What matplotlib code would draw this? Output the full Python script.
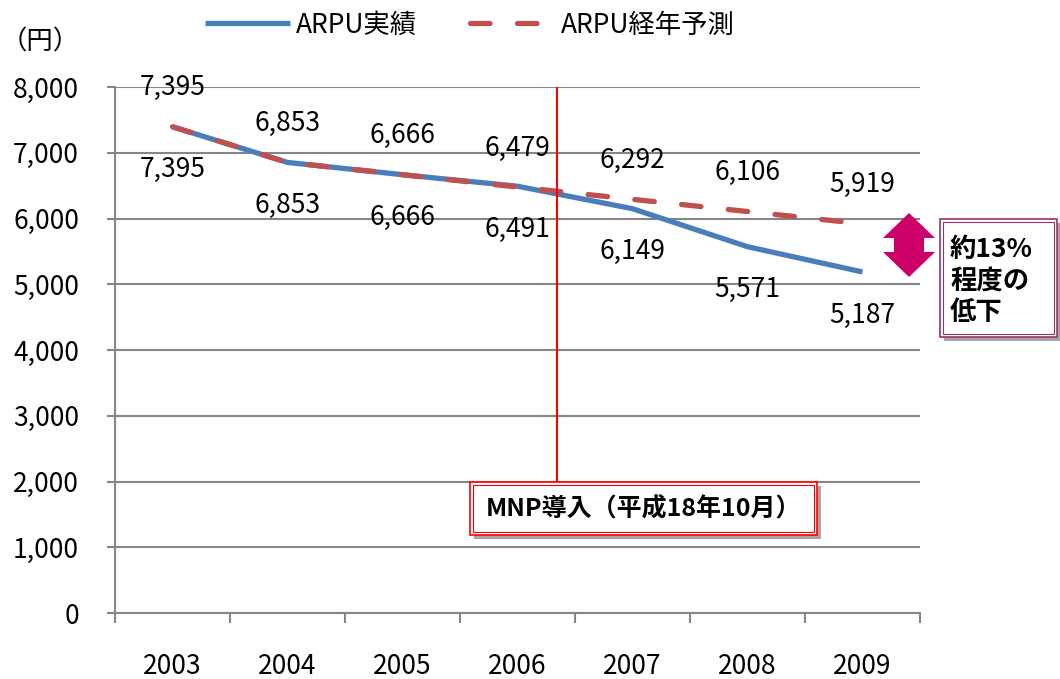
import matplotlib
matplotlib.use("Agg")
import matplotlib.pyplot as plt
from matplotlib.patches import Rectangle, Polygon

plt.rcParams['font.family'] = ['Noto Sans CJK JP', 'DejaVu Sans']

# data
years = ['2003', '2004', '2005', '2006', '2007', '2008', '2009']
arpu_actual = [7395, 6853, 6666, 6491, 6149, 5571, 5187]
arpu_forecast = [7395, 6853, 6666, 6479, 6292, 6106, 5919]
y_ticks = [0, 1000, 2000, 3000, 4000, 5000, 6000, 7000, 8000]
mnp_x = 3.34          # Oct 2006 on the category axis
mnp_label = 'MNP導入（平成18年10月）'
drop_label = '約13%\n程度の\n低下'

W, H = 1060, 679
BLUE = '#4A7EBB'
RED = '#C0504D'
GRID = '#868686'
FS = 19


def fx(px):
    return px / W


def fy(py):
    return 1 - py / H


fig = plt.figure(figsize=(W / 100, H / 100), dpi=100)
ax = fig.add_axes([fx(115), fy(613), fx(920) - fx(115), fy(87) - fy(613)])

x = list(range(len(years)))
ax.plot(x, arpu_actual, color=BLUE, lw=3.8, solid_capstyle='butt', solid_joinstyle='round',
        zorder=3, label='ARPU実績')
ax.plot(x, arpu_forecast, color=RED, lw=3.8, dashes=(3.7, 5.2), dash_capstyle='round',
        zorder=4, label='ARPU経年予測')

for xi, v in zip(x, arpu_forecast):
    ax.annotate(f'{v:,}', (xi, v), xytext=(0, 28), textcoords='offset points',
                ha='center', va='center', fontsize=FS)
for xi, v in zip(x, arpu_actual):
    ax.annotate(f'{v:,}', (xi, v), xytext=(0, -31), textcoords='offset points',
                ha='center', va='center', fontsize=FS)

ax.set_xlim(-0.5, len(years) - 0.5)
ax.set_ylim(0, 8000)
ax.set_yticks(y_ticks)
ax.set_yticklabels([f'{t:,}' for t in y_ticks], fontsize=FS)
ax.set_xticks([i - 0.5 for i in range(len(years) + 1)])
ax.set_xticklabels([])
ax.set_xticks(x, minor=True)
ax.set_xticklabels(years, minor=True, fontsize=FS)
ax.tick_params(axis='x', which='major', length=7, width=1.5, color=GRID, direction='out')
ax.tick_params(axis='x', which='minor', length=0, pad=29)
ax.tick_params(axis='y', length=6, width=1.5, color=GRID, pad=20)

ax.grid(axis='y', color=GRID, lw=1.5)
ax.set_axisbelow(True)
for s in ['top', 'right']:
    ax.spines[s].set_visible(False)
for s in ['left', 'bottom']:
    ax.spines[s].set_color(GRID)
    ax.spines[s].set_linewidth(1.5)

# MNP line
ax.plot([mnp_x, mnp_x], [1977, 7985], color='#FF0000', lw=1.5, zorder=5)

# legend
leg = fig.legend(loc='center', bbox_to_anchor=(fx(470), fy(25)), ncol=2, frameon=False,
                 fontsize=FS, handlelength=3.2, handletextpad=0.25, columnspacing=2.0)

fig.text(fx(40), fy(42), '（円）', fontsize=FS, ha='center', va='center')

# MNP box with double border and shadow
fig.patches.append(Rectangle((fx(474), fy(539)), fx(347), fy(0) - fy(53),
                             transform=fig.transFigure, facecolor='#A6A6A6', edgecolor='none', zorder=5))
fig.patches.append(Rectangle((fx(470), fy(535)), fx(347), fy(0) - fy(53),
                             transform=fig.transFigure, facecolor='white', edgecolor='#FF0000', lw=1.2, zorder=6))
fig.patches.append(Rectangle((fx(473), fy(532)), fx(341), fy(0) - fy(47),
                             transform=fig.transFigure, facecolor='none', edgecolor='#FF0000', lw=0.8, zorder=7))
fig.text(fx(643), fy(509), mnp_label, fontsize=18, fontweight='bold', ha='center', va='center', zorder=8)

# drop box
fig.patches.append(Rectangle((fx(944), fy(341)), fx(117), fy(0) - fy(118),
                             transform=fig.transFigure, facecolor='#A6A6A6', edgecolor='none', zorder=5))
fig.patches.append(Rectangle((fx(940), fy(337)), fx(117), fy(0) - fy(118),
                             transform=fig.transFigure, facecolor='white', edgecolor='#993366', lw=1.2, zorder=6))
fig.patches.append(Rectangle((fx(943), fy(334)), fx(111), fy(0) - fy(112),
                             transform=fig.transFigure, facecolor='none', edgecolor='#993366', lw=0.8, zorder=7))
fig.text(fx(950), fy(281), drop_label, fontsize=19, fontweight='bold', ha='left', va='center',
         linespacing=1.2, zorder=8)

# double arrow
arrow_px = [(909, 213), (935, 238), (924, 238), (924, 252), (935, 252), (909, 277),
            (883, 252), (894, 252), (894, 238), (883, 238)]
fig.patches.append(Polygon([(fx(a), fy(b)) for a, b in arrow_px], closed=True,
                           transform=fig.transFigure, facecolor='#CC0066', edgecolor='none', zorder=6))

fig.savefig('out.png', dpi=100)
